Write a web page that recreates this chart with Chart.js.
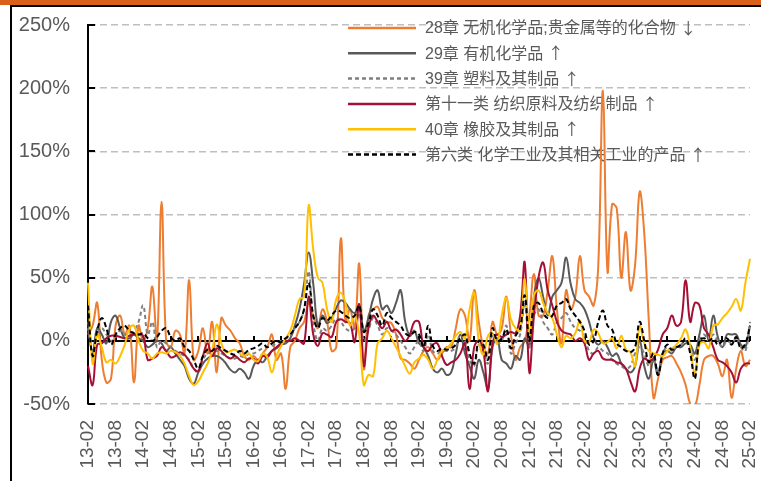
<!DOCTYPE html>
<html>
<head>
<meta charset="utf-8">
<script src="https://cdn.jsdelivr.net/npm/chart.js@4.4.1/dist/chart.umd.min.js"></script>
<style>
  body { margin: 0; background: #fff; }
  #wrap { position: relative; width: 761px; height: 481px; overflow: hidden; }
  #myChart { position: absolute; left: 0; top: 0; }
  .top-bar { position: absolute; left: 0; top: 0; width: 761px; height: 5px; background: #d95f1a; }
  .top-line { position: absolute; left: 10px; top: 5px; width: 751px; height: 2px; background: #000; }
  .left-line { position: absolute; left: 10px; top: 5px; width: 2px; height: 476px; background: #000; }
</style>
</head>
<body>
<div id="wrap">
  <canvas id="myChart" width="761" height="481"></canvas>
  <div class="top-bar"></div>
  <div class="top-line"></div>
  <div class="left-line"></div>
</div>
<script>
// series names (legend text)
const seriesNames = [
  "28章 无机化学品;贵金属等的化合物 ↓",
  "29章 有机化学品 ↑",
  "39章 塑料及其制品 ↑",
  "第十一类 纺织原料及纺织制品 ↑",
  "40章 橡胶及其制品 ↑",
  "第六类 化学工业及其相关工业的产品 ↑",
];

// y axis ticks (%)
const yTicks = [-50, 0, 50, 100, 150, 200, 250];

// months 2013-02 .. 2025-02, one row per year in the arrays below
const months = [];
for (let k = 0; k <= 144; k++) {
  const m = (1 + k) % 12 + 1;
  const yy = 13 + Math.floor((1 + k) / 12);
  months.push(yy + "-" + String(m).padStart(2, "0"));
}

// values in %
const ch28 = [
  5, 12, 30, -15, -33, -30, 12, 20, 5, 12, -33, 12,
  0, 10, 43, 0, 110, 0, -5, 8, 5, -10, 48, -15,
  -8, 10, -10, 15, -25, 18, 12, 8, 2, -2, -12, -15,
  -12, -15, -10, -5, 5, -15, -10, -38, -5, 0, 10, 15,
  30, 20, 10, 25, 15, -8, -5, 81, 15, 25, 10, 61,
  -22, 20, 25, 27, 18, 15, 14, 5, -14, -15, -18, -22,
  -15, -8, -5, -10, -15, -10, -5, -5, 10, 25, 20, 0,
  40, 15, -5, -10, 15, 5, 10, 35, 5, -15, -5, 0,
  20, 53, 20, 20, 40, 67, 25, -2, 40, 25, 35, 67,
  40, 35, 28, 60, 198, 55, 108, 105, 50, 86, 40, 60,
  118, 85, 15, -45, -30, -15, -13, -12, -18, -25, -35, -50,
  -52, -35, -15, -12, -12, -18, -28, -15, -45, -22, -8, -20,
  -15,
];
const ch29 = [
  15, -10, 10, 5, -2, 15, 20, 10, 2, 2, 5, 2,
  0, -5, -3, 0, -2, -8, -5, -10, -15, -20, -30, -34,
  -25, -18, -14, -12, -12, -14, -18, -23, -25, -22, -25, -30,
  -20, -15, -17, -12, -8, -6, -3, -2, 2, 12, 25, 45,
  70, 45, 12, 20, 14, 18, 26, 32, 30, 25, 22, 28,
  8, 18, 33, 40, 25, 28, 22, 30, 40, 15, 4, 8,
  -2, -5, -12, -22, -25, -22, -27, -25, -10, 5, -10, -20,
  -30, -15, -25, -38, -5, 2, -15, -18, -22, -12, -15, 2,
  -5, 35, 50, 35, 20, 35, 40, 46, 66, 45, 33, 30,
  25, 15, 2, -3, 0, -5, -12, -10, -18, -22, -25, -20,
  0, -20, -30, -15, -27, -10, -8, -10, -5, -5, -2, -3,
  -10, 5, 20, 0, 20, 3, -5, 5, 5, 5, -3, -5,
  12,
];
const ch39 = [
  10, -8, 5, 10, 5, 0, 3, 8, 5, 5, 8, 15,
  28, 5, 15, -5, 0, -2, -5, -8, -10, -12, -15, -22,
  -25, -15, -10, -10, -8, -10, -12, -14, -14, -12, -13, -10,
  -10, -8, -6, -5, -4, -2, 0, 2, 4, 10, 15, 25,
  55, 15, 0, 10, 8, 12, 18, 15, 10, 8, 10, 22,
  0, 8, 18, 12, 5, 10, 8, 5, 0, -5, -10, -5,
  0, -8, 5, -8, -10, -8, -8, -8, -5, 5, 0, -15,
  -20, -3, -8, -18, 5, -2, 0, 12, -10, -2, 5, 30,
  -5, 20, 25, 15, 10, 5, 15, 18, 22, 15, 10, 8,
  3, -8, -10, -5, -8, -10, -15, -18, -20, -22, -20, -10,
  -5, -10, -20, -15, -25, -10, -5, -8, -5, -3, 0, -5,
  -15, 0, 5, 0, 5, 0, -5, 0, -2, 2, -5, -8,
  15,
];
const sec11 = [
  -20, -35, -3, -2, 2, 4, 4, 3, 2, 4, 5, 5,
  4, -15, -14, -12, -5, -8, -13, -12, -9, -11, -16, -22,
  -24, -12, -2, -12, -6, -8, -12, -14, -12, -15, -17, -14,
  -14, -18, -12, -13, -8, -5, -2, 0, 0, 2, 0, -2,
  35, 5, -4, 6, 5, 3, 15, 17, 15, 14, -1, 29,
  -20, 10, 20, 15, 10, 15, 8, 9, 5, 0, 5, 15,
  15, -5, -8, -3, -2, -12, -19, -17, -15, -10, -2, -38,
  -5, 0, -8, -40, -2, 5, 3, 5, 7, 6, 20, 62,
  -25, 20, 50, 62, 40, 28, 15, 8, 6, 5, 0, 2,
  -2, -15, -10, -8, -14, -15, -15, -17, -18, -22, -32, -40,
  -22, -14, -16, -14, -7, 5, 10, 20, 12, 15, 48, 15,
  30, 28, 10, 5, -5, -15, -17, -20, -25, -33, -22, -18,
  -18,
];
const ch40 = [
  46, -18, 5, -5, -17, -15, -18, -12, -3, 10, 12, 0,
  -8, -10, -14, -10, -9, -10, -8, -9, -12, -18, -28, -35,
  -32, -25, -18, -8, 13, -2, -9, -8, -7, -10, -12, -10,
  -15, -16, -10, -13, -25, -12, -4, 2, 8, 20, 33, 35,
  107, 72, 50, 46, 25, 15, 33, 38, 30, 12, 20, 5,
  -35, -27, -28, -2, 2, 8, 2, -5, -12, -20, -26, -17,
  -14, -11, -15, -22, -15, -8, -6, -2, 4, 7, 2, 25,
  38, 0, -11, 4, 6, -2, 20, 34, 17, 10, 8, 49,
  5, 36, 40, 30, 22, 18, 5, -5, 4, 2, 6, 16,
  0, -1, 9, 6, -2, -1, 2, -6, 4, -7, -9, -20,
  12, -2, -8, -10, -11, -12, -8, -6, -3, 2, 9, -5,
  -26, -3, -1, -6, 12, 13, 18, 22, 27, 33, 24, 46,
  65,
];
const sec6 = [
  28, -12, 8, 18, 10, -3, 5, 10, 12, 8, 6, 5,
  6, 2, 0, 3, 8, 10, 3, 0, 2, -5, -8, -15,
  -22, -12, -7, -8, -4, -6, -8, -10, -11, -8, -10, -7,
  -6, -4, -2, -5, -2, 0, -1, 2, 5, 10, 15, 25,
  46, 20, 10, 18, 16, 20, 24, 23, 20, 18, 20, 28,
  7, 14, 25, 20, 12, 22, 18, 15, 12, 6, 4, 7,
  5, -5, 12, -4, -8, -6, -7, -6, -3, 2, 5, -10,
  -18, 0, -3, -15, 10, 0, 2, 9, -6, 4, 10, 36,
  0, 28, 30, 22, 18, 20, 28, 30, 33, 25, 20, 15,
  8, -3, 0, 15, 24, 12, 9, -2, -5, -8, -9, -5,
  15, 0, -17, -10, -27, -10, -3, -7, -5, -3, 2, -10,
  -30, 0, 2, 0, 2, -3, 0, 2, -3, 3, -6, -2,
  12,
];

const textColor = "#595959";
const fontFamily = "'Liberation Sans', Arial, 'Noto Sans CJK SC', sans-serif";

// zero line, inward ticks and the legend drawn inside the plot
const decorPlugin = {
  id: "decor",
  beforeDatasetsDraw(chart) {
    const { ctx, chartArea, scales } = chart;
    const x = scales.x;
    const y = scales.y;
    ctx.save();
    ctx.strokeStyle = "#000";
    ctx.lineWidth = 2;
    ctx.setLineDash([]);

    // y ticks pointing inside
    yTicks.forEach((v) => {
      const py = Math.round(y.getPixelForValue(v));
      ctx.beginPath();
      ctx.moveTo(chartArea.left, py);
      ctx.lineTo(chartArea.left + 7, py);
      ctx.stroke();
    });

    // zero line with small ticks
    const y0 = Math.round(y.getPixelForValue(0));
    ctx.beginPath();
    ctx.moveTo(chartArea.left, y0);
    ctx.lineTo(chartArea.right, y0);
    ctx.stroke();
    months.forEach((m, i) => {
      if (i % 6 !== 0) return;
      const px = Math.round(x.getPixelForValue(i));
      ctx.beginPath();
      ctx.moveTo(px, y0);
      ctx.lineTo(px, y0 - 5);
      ctx.stroke();
    });

    // legend
    ctx.textBaseline = "middle";
    ctx.fillStyle = textColor;
    chart.data.datasets.forEach((ds, k) => {
      const ly = 28 + k * 25.3;
      ctx.strokeStyle = ds.borderColor;
      ctx.lineWidth = 2.5;
      ctx.setLineDash(ds.borderDash || []);
      ctx.beginPath();
      ctx.moveTo(348, ly);
      ctx.lineTo(416, ly);
      ctx.stroke();
      // text, then the arrow in the CJK font so it stays tall
      const cut = ds.label.lastIndexOf(" ");
      const main = ds.label.slice(0, cut + 1);
      const arrow = ds.label.slice(cut + 1);
      ctx.font = "16px " + fontFamily;
      ctx.fillText(main, 425, ly + 1);
      const w = ctx.measureText(main).width;
      ctx.font = "16px 'Noto Sans CJK SC'";
      ctx.fillText(arrow, 425 + w, ly);
    });
    ctx.restore();
  },
};

const ctx = document.getElementById("myChart");

const myChart = new Chart(ctx, {
  type: "line",
  data: {
    labels: months,
    datasets: [
      { label: seriesNames[0], data: ch28, borderColor: "#ed7d31", order: 6 },
      { label: seriesNames[1], data: ch29, borderColor: "#595959", order: 5 },
      { label: seriesNames[2], data: ch39, borderColor: "#7f7f7f", borderDash: [4, 3], order: 4 },
      { label: seriesNames[3], data: sec11, borderColor: "#a50f34", order: 3 },
      { label: seriesNames[4], data: ch40, borderColor: "#ffc000", order: 2 },
      { label: seriesNames[5], data: sec6, borderColor: "#000000", borderDash: [5, 3], order: 1 },
    ],
  },
  options: {
    responsive: false,
    animation: false,
    devicePixelRatio: 1,
    layout: { padding: { top: 25, right: 11, left: 0, bottom: 0 } },
    elements: {
      line: { borderWidth: 2, tension: 0.4, fill: false },
      point: { radius: 0 },
    },
    plugins: {
      legend: { display: false },
      tooltip: { enabled: false },
    },
    scales: {
      x: {
        offset: false,
        afterFit: (scale) => {
          scale.height = 77;
          scale.paddingLeft = 0;
          scale.paddingRight = 0;
        },
        grid: { display: false },
        border: { display: false },
        ticks: {
          autoSkip: false,
          minRotation: 90,
          maxRotation: 90,
          padding: 8,
          color: textColor,
          font: { size: 19, family: fontFamily },
          callback: (v, i) => (i % 6 === 0 ? months[i] : null),
        },
      },
      y: {
        min: -50,
        max: 250,
        afterFit: (scale) => {
          scale.width = 88;
          scale.paddingTop = 0;
          scale.paddingBottom = 0;
        },
        afterBuildTicks: (scale) => { scale.ticks = yTicks.map((v) => ({ value: v })); },
        grid: {
          drawTicks: false,
          lineWidth: 1.5,
          color: (c) => (c.tick && c.tick.value === 0 ? "rgba(0,0,0,0)" : "#bfbfbf"),
        },
        border: { display: true, color: "#000", width: 2, dash: [7, 4] },
        ticks: {
          padding: 18,
          color: textColor,
          font: { size: 20, family: fontFamily },
          callback: (v) => v + "%",
        },
      },
    },
  },
  plugins: [decorPlugin],
});
</script>
</body>
</html>
